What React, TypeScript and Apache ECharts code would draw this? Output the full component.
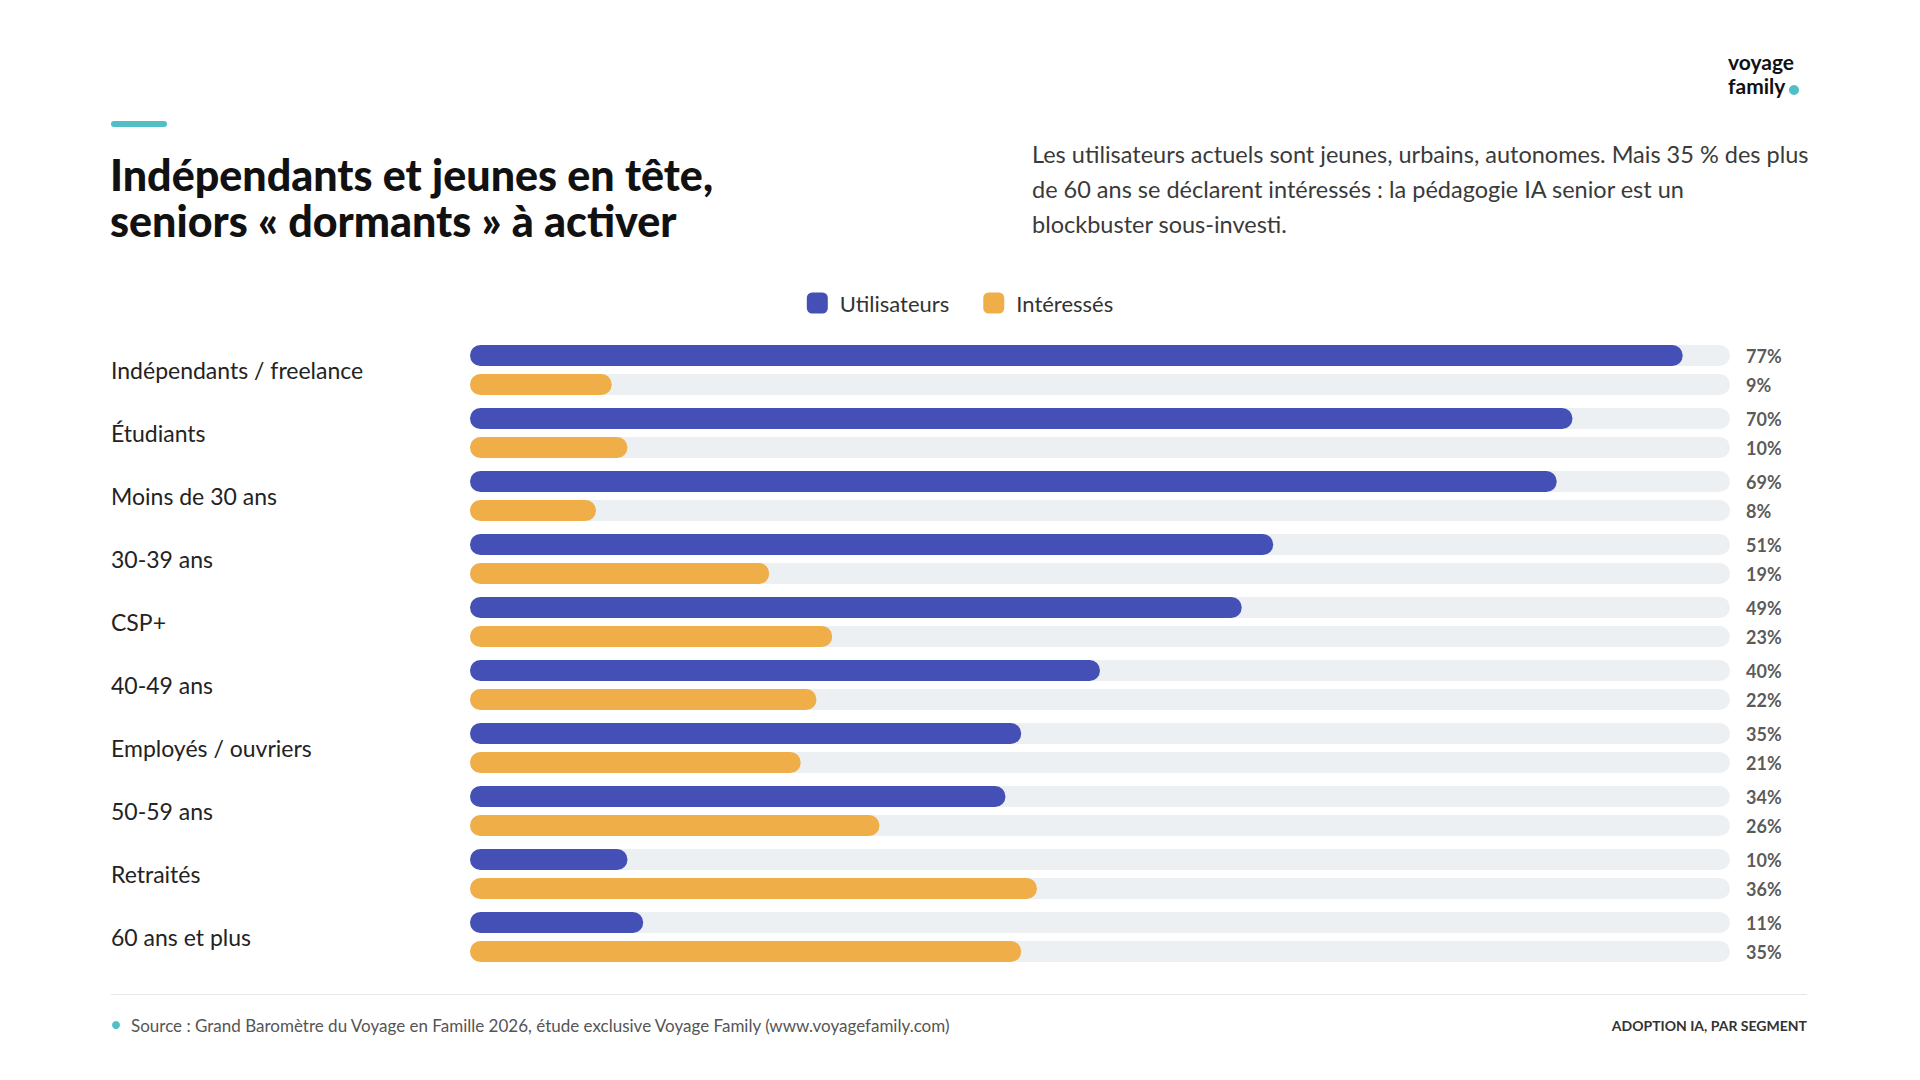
import React, { useEffect, useRef } from "react";
import * as echarts from "echarts";

const categories = [
  "Indépendants / freelance",
  "Étudiants",
  "Moins de 30 ans",
  "30-39 ans",
  "CSP+",
  "40-49 ans",
  "Employés / ouvriers",
  "50-59 ans",
  "Retraités",
  "60 ans et plus",
];
const utilisateurs = [77, 70, 69, 51, 49, 40, 35, 34, 10, 11];
const interesses = [9, 10, 8, 19, 23, 22, 21, 26, 36, 35];
const axisMax = 80;

const titleLines = ["Indépendants et jeunes en tête,", "seniors « dormants » à activer"];
const subtitleLines = [
  "Les utilisateurs actuels sont jeunes, urbains, autonomes. Mais 35 % des plus",
  "de 60 ans se déclarent intéressés : la pédagogie IA senior est un",
  "blockbuster sous-investi.",
];
const logoLines = ["voyage", "family"];
const sourceText =
  "Source : Grand Baromètre du Voyage en Famille 2026, étude exclusive Voyage Family (www.voyagefamily.com)";
const footerRight = "ADOPTION IA, PAR SEGMENT";

const BLUE = "#4550b7";
const ORANGE = "#f0ae48";
const TRACK = "#edf0f3";
const TEAL = "#52bfc7";
const DARK = "#232323";
const FONT = "Lato";

export default function App() {
  const ref = useRef<HTMLDivElement>(null);
  useEffect(() => {
    document.body.style.margin = "0";
    const chart = echarts.init(ref.current!, null, { renderer: "svg" });
    const labelSeries = (vals: number[], dy: number) => ({
      type: "scatter",
      symbolSize: 0,
      silent: true,
      z: 5,
      data: categories.map((c, i) => [axisMax, c, vals[i]]),
      label: {
        show: true,
        position: "right",
        distance: 16,
        offset: [0, dy],
        formatter: (p: any) => `${vals[p.dataIndex]}%`,
        color: "#2e2e2e",
        fontFamily: FONT,
        fontWeight: "bold",
        fontSize: 18,
      },
    });
    chart.setOption({
      animation: false,
      backgroundColor: "#ffffff",
      legend: {
        data: ["Utilisateurs", "Intéressés"],
        left: "center",
        top: 287,
        itemWidth: 21,
        itemHeight: 21,
        itemGap: 34,
        icon: "roundRect",
        textStyle: {
          fontFamily: FONT,
          fontSize: 22,
          color: "#333",
          padding: [0, 0, 0, 7],
        },
      },
      grid: { left: 470, right: 190, top: 338.5, height: 630 },
      xAxis: {
        type: "value",
        min: 0,
        max: axisMax,
        show: false,
      },
      yAxis: {
        type: "category",
        data: categories,
        inverse: true,
        axisLine: { show: false },
        axisTick: { show: false },
        splitLine: { show: false },
        axisLabel: {
          align: "left",
          margin: 359,
          fontFamily: FONT,
          fontSize: 23,
          color: DARK,
        },
      },
      series: [
        {
          name: "Utilisateurs",
          type: "bar",
          data: utilisateurs,
          barWidth: 21,
          barGap: "38%",
          itemStyle: { color: BLUE, borderRadius: 10.5 },
          showBackground: true,
          backgroundStyle: { color: TRACK, borderRadius: 10.5 },
        },
        {
          name: "Intéressés",
          type: "bar",
          data: interesses,
          barWidth: 21,
          barGap: "38%",
          itemStyle: { color: ORANGE, borderRadius: 10.5 },
          showBackground: true,
          backgroundStyle: { color: TRACK, borderRadius: 10.5 },
        },
        labelSeries(utilisateurs, -14.5),
        labelSeries(interesses, 14.5),
      ],
      graphic: [
        { type: "rect", shape: { x: 111, y: 121, width: 56, height: 6, r: 3 }, style: { fill: TEAL } },
        ...titleLines.map((t, i) => ({
          type: "text",
          x: 110,
          y: 174 + i * 46,
          style: {
            text: t,
            fill: "#111",
            fontFamily: FONT,
            fontWeight: 900,
            fontSize: 43,
            verticalAlign: "middle",
          },
        })),
        ...subtitleLines.map((t, i) => ({
          type: "text",
          x: 1032,
          y: 154 + i * 35,
          style: {
            text: t,
            fill: "#3a3a3a",
            fontFamily: FONT,
            fontSize: 23.5,
            verticalAlign: "middle",
          },
        })),
        ...logoLines.map((t, i) => ({
          type: "text",
          x: 1728,
          y: 51 + i * 24,
          style: {
            text: t,
            fill: "#111",
            fontFamily: FONT,
            fontWeight: "bold",
            fontSize: 21,
            lineHeight: 21,
            verticalAlign: "top",
          },
        })),
        { type: "circle", shape: { cx: 1794, cy: 90, r: 5 }, style: { fill: TEAL } },
        { type: "line", shape: { x1: 111, y1: 994.5, x2: 1807, y2: 994.5 }, style: { stroke: "#e6e8eb", lineWidth: 1 } },
        { type: "circle", shape: { cx: 116, cy: 1025, r: 4 }, style: { fill: TEAL } },
        {
          type: "text",
          x: 131,
          y: 1025,
          style: { text: sourceText, fill: "#555", fontFamily: FONT, fontSize: 17, verticalAlign: "middle" },
        },
        {
          type: "text",
          x: 1807,
          y: 1025,
          style: {
            text: footerRight,
            fill: "#333",
            fontFamily: FONT,
            fontWeight: "bold",
            fontSize: 14,
            align: "right",
            verticalAlign: "middle",
          },
        },
      ],
    });
    return () => chart.dispose();
  }, []);
  return (
    <div
      ref={ref}
      style={{ position: "fixed", left: 0, top: 0, width: 1920, height: 1080 }}
    />
  );
}
